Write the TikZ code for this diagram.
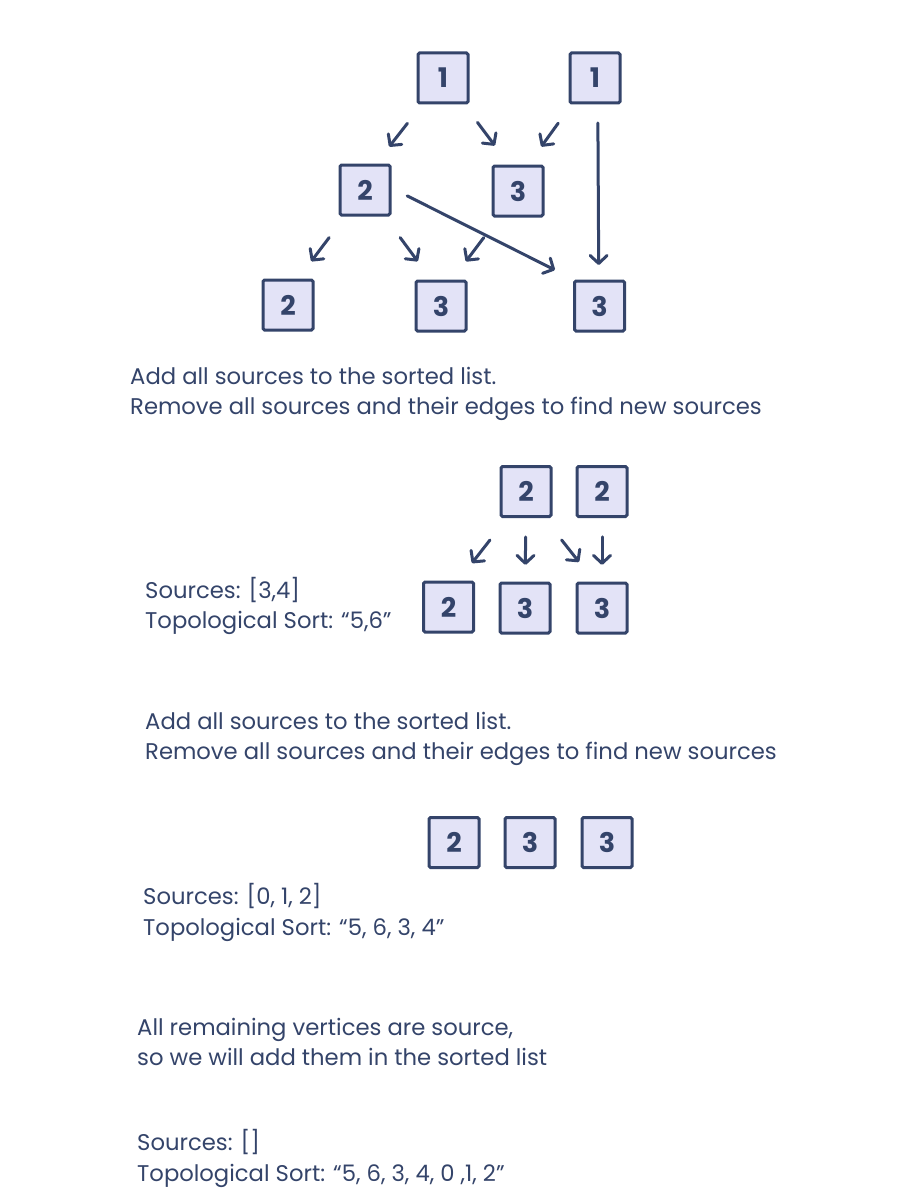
\documentclass[tikz,border=0pt]{standalone}
\usepackage{fontspec}
\setmainfont{Poppins}
\usetikzlibrary{arrows.meta,calc}
\definecolor{navy}{HTML}{34446A}
\definecolor{lav}{HTML}{E3E3F7}
\begin{document}
\begin{tikzpicture}[x=1pt,y=-1pt,
  box/.style={draw=navy,fill=lav,line width=3pt,minimum size=50pt,inner sep=0pt,
    rounded corners=1.5pt,font=\fontsize{27}{27}\selectfont\bfseries,text=navy},
  arr/.style={draw=navy,line width=3pt,line cap=round,
    -{Straight Barb[length=8pt,width=17pt,line cap=round,line join=round]}},
  txt/.style={anchor=base west,inner sep=0pt,text=navy,font=\fontsize{22.7}{26}\selectfont}]
\useasboundingbox[fill=white] (0,0) rectangle (908,1204);

% ---- top graph
\node[box] (t1a) at (443,78) {1};
\node[box] (t1b) at (595,78) {1};
\node[box] (t2a) at (365,190) {2};
\node[box] (t3a) at (518,191) {3};
\node[box] (t2b) at (288,305) {2};
\node[box] (t3b) at (441,306) {3};
\node[box] (t3c) at (599.5,306) {3};

\draw[arr] ($(t1a)!0.405!(t2a)+(-4,0)$) -- ($(t1a)!0.613!(t2a)+(-6,0)$);
\draw[arr] ($(t1a)!0.393!(t3a)+(5,0)$) -- ($(t1a)!0.598!(t3a)+(7,0)$);
\draw[arr] ($(t1b)!0.40!(t3a)+(-6,0)$) -- ($(t1b)!0.607!(t3a)+(-7,0)$);
\draw[arr] ($(t1b)!0.197!(t3c)+(2,0)$) -- ($(t1b)!0.82!(t3c)+(0,0)$);
\draw[arr] ($(t2a)!0.18!(t3c)+(0,-15)$) -- ($(t2a)!0.81!(t3c)+(0,-14)$);
\draw[arr] ($(t2a)!0.414!(t2b)+(-4,0)$) -- ($(t2a)!0.62!(t2b)+(-6,0)$);
\draw[arr] ($(t2a)!0.41!(t3b)+(4,0)$) -- ($(t2a)!0.615!(t3b)+(6,0)$);
\draw[arr] ($(t3a)!0.405!(t3b)+(-3,0)$) -- ($(t3a)!0.612!(t3b)+(-5,0)$);

\node[txt] (l1) at (130,384) {Add all sources to the sorted list.};
\node[txt] (l2) at (130,414) {Remove all sources and their edges to find new sources};

% ---- second graph
\node[box] (m2a) at (526,491.5) {2};
\node[box] (m2b) at (602,491.5) {2};
\node[box] (m2c) at (448.5,607) {2};
\node[box] (m3a) at (525,608) {3};
\node[box] (m3b) at (602,608) {3};

\draw[arr] ($(m2a)!0.42!(m2c)+(-3.5,0)$) -- ($(m2a)!0.62!(m2c)+(-6,0)$);
\draw[arr] ($(m2a)!0.39!(m3a)$) -- ($(m2a)!0.63!(m3a)$);
\draw[arr] ($(m2a)!0.416!(m3b)+(4,0)$) -- ($(m2a)!0.605!(m3b)+(7,0)$);
\draw[arr] ($(m2b)!0.39!(m3b)$) -- ($(m2b)!0.63!(m3b)$);

\node[txt] (l3) at (145,598) {Sources: [3,4]};
\node[txt] (l4) at (145,628) {Topological Sort: “5,6”};

\node[txt] (l5) at (145,729) {Add all sources to the sorted list.};
\node[txt] (l6) at (145,759) {Remove all sources and their edges to find new sources};

% ---- third row
\node[box] (b2) at (454,842.5) {2};
\node[box] (b3a) at (530,842.5) {3};
\node[box] (b3b) at (607,842.5) {3};

\node[txt] (l7) at (143,904) {Sources: [0, 1, 2]};
\node[txt] (l8) at (143,935) {Topological Sort: “5, 6, 3, 4”};

\node[txt] (l9) at (137,1035) {All remaining vertices are source,};
\node[txt] (l10) at (137,1065) {so we will add them in the sorted list};

\node[txt] (l11) at (137,1150) {Sources: []};
\node[txt] (l12) at (137,1181) {Topological Sort: “5, 6, 3, 4, 0 ,1, 2”};
\end{tikzpicture}
\end{document}
